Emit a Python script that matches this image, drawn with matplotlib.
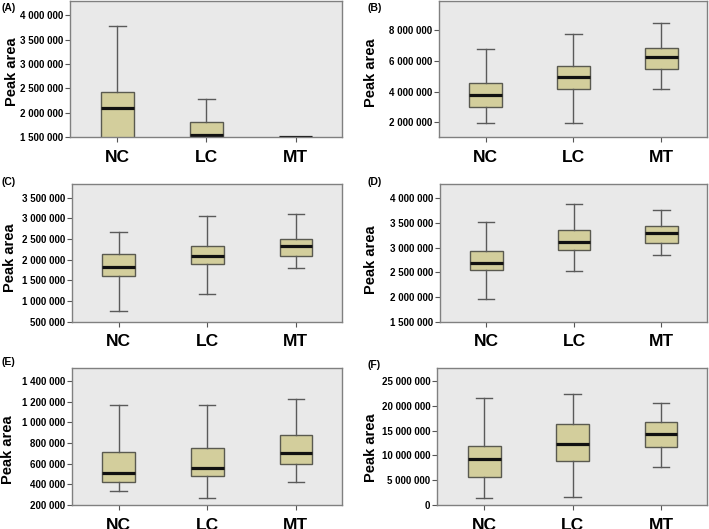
import matplotlib
matplotlib.use("Agg")
import matplotlib.pyplot as plt
from matplotlib.ticker import FuncFormatter

plt.rcParams['font.family'] = ['Liberation Sans', 'DejaVu Sans']
plt.rcParams['font.weight'] = 'bold'

groups = ["NC", "LC", "MT"]
panel_labels = ["(A)", "(B)", "(C)", "(D)", "(E)", "(F)"]
y_label = "Peak area"

# [whisker low, Q1, median, Q3, whisker high] for NC, LC, MT
stats_A = [[1100000, 1400000, 2085000, 2420000, 3786000],
           [1200000, 1450000, 1540000, 1810000, 2276000],
           [1200000, 1350000, 1505000, 1510000, 1510000]]
stats_B = [[1970000, 3030000, 3780000, 4540000, 6750000],
           [1940000, 4190000, 4970000, 5650000, 7780000],
           [4170000, 5480000, 6280000, 6810000, 8490000]]
stats_C = [[770000, 1600000, 1830000, 2140000, 2680000],
           [1180000, 1890000, 2100000, 2340000, 3060000],
           [1810000, 2100000, 2320000, 2490000, 3110000]]
stats_D = [[1970000, 2550000, 2690000, 2930000, 3510000],
           [2530000, 2950000, 3110000, 3360000, 3880000],
           [2860000, 3090000, 3290000, 3440000, 3770000]]
stats_E = [[335000, 420000, 513000, 716000, 1168000],
           [270000, 484000, 562000, 755000, 1170000],
           [423000, 597000, 707000, 881000, 1223000]]
stats_F = [[1400000, 5580000, 9200000, 11960000, 21500000],
           [1550000, 8810000, 12240000, 16330000, 22380000],
           [7660000, 11630000, 14250000, 16730000, 20630000]]

yticks_A = [1500000, 2000000, 2500000, 3000000, 3500000, 4000000]
yticks_B = [2000000, 4000000, 6000000, 8000000]
yticks_C = [500000, 1000000, 1500000, 2000000, 2500000, 3000000, 3500000]
yticks_D = [1500000, 2000000, 2500000, 3000000, 3500000, 4000000]
yticks_E = [200000, 400000, 600000, 800000, 1000000, 1200000, 1400000]
yticks_F = [0, 5000000, 10000000, 15000000, 20000000, 25000000]

ylims = [(1500000, 4290000), (1050000, 9900000), (500000, 3830000),
         (1500000, 4290000), (200000, 1523000), (0, 27560000)]

all_stats = [stats_A, stats_B, stats_C, stats_D, stats_E, stats_F]
all_yticks = [yticks_A, yticks_B, yticks_C, yticks_D, yticks_E, yticks_F]

W, H = 709, 529
fig = plt.figure(figsize=(W / 100, H / 100), dpi=100)

# axes boxes in pixels: left, right, top, bottom
boxes_px = [(70, 342, 1, 137), (439, 707, 1, 137),
            (71.7, 342, 184, 321.7), (440, 707, 184, 321.7),
            (71.7, 342, 368.3, 505), (437.3, 707, 368.3, 505)]
ylabel_px = [(12, 72), (371, 73), (10, 258), (371, 260), (8, 450), (371, 448)]
plabel_px = [(2, 8), (367, 8), (2, 182), (367, 182), (2, 362), (367, 365)]

fmt = FuncFormatter(lambda v, p: f"{v:,.0f}".replace(",", " "))

for i, (stats, yt, yl) in enumerate(zip(all_stats, all_yticks, ylims)):
    l, r, t, b = boxes_px[i]
    ax = fig.add_axes([l / W, 1 - b / H, (r - l) / W, (b - t) / H])
    ax.set_facecolor("#E9E9E9")
    bx = [dict(label=g, whislo=s[0], q1=s[1], med=s[2], q3=s[3], whishi=s[4], fliers=[])
          for g, s in zip(groups, stats)]
    ax.bxp(bx, positions=[1, 2, 3], widths=0.37, patch_artist=True,
           boxprops=dict(facecolor="#D3CE9C", edgecolor="#5A5A50", linewidth=1.0),
           whiskerprops=dict(color="#5A5A5A", linewidth=1.0),
           capprops=dict(color="#5A5A5A", linewidth=1.0),
           medianprops=dict(color="#111111", linewidth=2.3))
    ax.set_xlim(0.47, 3.52)
    ax.set_ylim(*yl)
    ax.set_yticks(yt)
    ax.yaxis.set_major_formatter(fmt)
    ax.set_xticks([1, 2, 3])
    ax.set_xticklabels(groups, fontsize=12.5, fontweight='bold')
    ax.tick_params(axis='y', labelsize=7, length=3.5, pad=1.5, color="#555555")
    ax.tick_params(axis='x', length=3.5, pad=5.5, color="#555555")
    for lab in ax.get_yticklabels():
        lab.set_fontweight('bold')
    for sp in ax.spines.values():
        sp.set_color("#808080")
        sp.set_linewidth(1.0)
    fx, fy = ylabel_px[i]
    fig.text(fx / W, 1 - fy / H, y_label, rotation=90, ha='center', va='center',
             fontsize=10.5, fontweight='bold')
    px, py = plabel_px[i]
    fig.text(px / W, 1 - py / H, panel_labels[i], ha='left', va='center',
             fontsize=7.5, fontweight='bold')

fig.savefig("out.png", dpi=100)
